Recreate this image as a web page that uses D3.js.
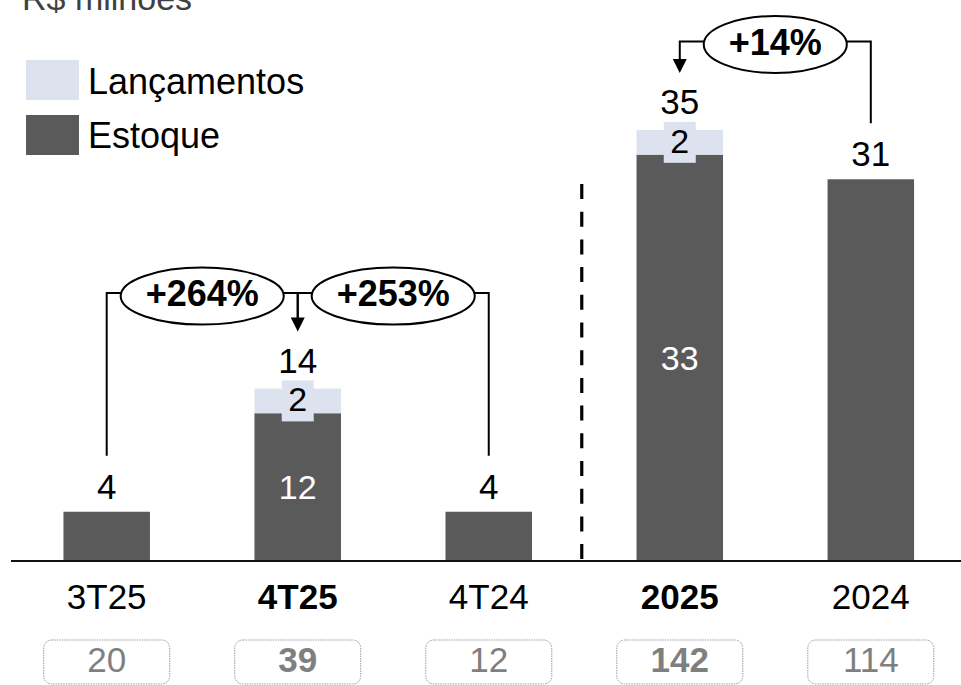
<!DOCTYPE html>
<html>
<head>
<meta charset="utf-8">
<script src="https://cdn.jsdelivr.net/npm/d3@7"></script>
<style>
  html, body { margin: 0; padding: 0; background: #fff; }
  svg { display: block; font-family: "Liberation Sans", Arial, sans-serif; }
</style>
</head>
<body>
<svg id="chart" width="961" height="685"></svg>
<script>
// ---- data ----
const categories = ["3T25", "4T25", "4T24", "2025", "2024"];
const estoque = [4, 12, 4, 33, 31];
const lancamentos = [0, 2, 0, 2, 0];
const boxValues = [20, 39, 12, 142, 114];
const boldCategories = ["4T25", "2025"];
const growthLabels = ["+264%", "+253%", "+14%"];
const growthFrom = ["3T25", "4T24", "2024"];
const growthTo = ["4T25", "4T25", "2025"];
const seriesNames = ["Lançamentos", "Estoque"];
const titleText = "R$ milhões";

// ---- setup ----
const svg = d3.select("#chart");
const W = 961, H = 685;
const C_DARK = "#5a5a5b", C_LIGHT = "#dde3ee";
const baseY = 561;

const x = d3.scalePoint().domain(categories).range([106.7, 870.8]);
const y = d3.scaleLinear().domain([0, 35]).range([baseY, 130]);
const barW = 86.5;

const rows = categories.map((c, i) => ({
  cat: c, est: estoque[i], lan: lancamentos[i], total: estoque[i] + lancamentos[i], box: boxValues[i]
}));
const isBold = c => boldCategories.includes(c);

// title (cut off at the top edge, as in the reference)
svg.append("text").attr("x", 22).attr("y", 10).attr("font-size", 34).attr("fill", "#404040").text(titleText);

// legend
const legColors = [C_LIGHT, C_DARK];
seriesNames.forEach((n, i) => {
  svg.append("rect").attr("x", 26).attr("y", 60 + i * 55).attr("width", 53).attr("height", 40).attr("fill", legColors[i]);
  svg.append("text").attr("x", 88).attr("y", 94 + i * 53.5).attr("font-size", 36).attr("fill", "#000").text(n);
});

// dashed separator
const sepX = (x("4T24") + x("2025")) / 2 - 2.5;
svg.append("line").attr("x1", sepX).attr("x2", sepX).attr("y1", 184).attr("y2", baseY)
  .attr("stroke", "#000").attr("stroke-width", 3.2).attr("stroke-dasharray", "15,12.7");

// bars
const g = svg.append("g");
g.selectAll("rect.est").data(rows).join("rect").attr("class", "est")
  .attr("x", d => x(d.cat) - barW / 2).attr("width", barW)
  .attr("y", d => y(d.est)).attr("height", d => y(0) - y(d.est))
  .attr("fill", C_DARK);
g.selectAll("rect.lan").data(rows.filter(d => d.lan > 0)).join("rect").attr("class", "lan")
  .attr("x", d => x(d.cat) - barW / 2).attr("width", barW)
  .attr("y", d => y(d.total)).attr("height", d => y(d.est) - y(d.total))
  .attr("fill", C_LIGHT);

// inner lancamentos labels with background
const lanRows = rows.filter(d => d.lan > 0);
g.selectAll("rect.lanbg").data(lanRows).join("rect")
  .attr("x", d => x(d.cat) - 16).attr("width", 32)
  .attr("y", d => (y(d.total) + y(d.est)) / 2 - 20.5).attr("height", 41)
  .attr("fill", C_LIGHT);
g.selectAll("text.lan").data(lanRows).join("text")
  .attr("x", d => x(d.cat)).attr("y", d => (y(d.total) + y(d.est)) / 2 + 10.5)
  .attr("text-anchor", "middle").attr("font-size", 34).attr("fill", "#000").text(d => d.lan);

// inner estoque labels (white) for stacked bars
g.selectAll("text.est").data(lanRows).join("text")
  .attr("x", d => x(d.cat)).attr("y", d => (y(d.est) + y(0)) / 2 + 12)
  .attr("text-anchor", "middle").attr("font-size", 34).attr("fill", "#fff").text(d => d.est);

// total labels
const labelBase = d => d.lan > 0 ? y(d.total) - 16 : y(d.total) - 13;
g.selectAll("text.tot").data(rows).join("text")
  .attr("x", d => x(d.cat)).attr("y", labelBase)
  .attr("text-anchor", "middle").attr("font-size", 35).attr("fill", "#000").text(d => d.total);

// axis line
svg.append("line").attr("x1", 11).attr("x2", W).attr("y1", baseY).attr("y2", baseY)
  .attr("stroke", "#111").attr("stroke-width", 2);

// category labels
svg.selectAll("text.cat").data(rows).join("text")
  .attr("x", d => x(d.cat)).attr("y", 609)
  .attr("text-anchor", "middle").attr("font-size", 35)
  .attr("font-weight", d => isBold(d.cat) ? "bold" : "normal")
  .attr("fill", "#000").text(d => d.cat);

// bottom boxes
svg.selectAll("rect.box").data(rows).join("rect")
  .attr("x", d => x(d.cat) - 63).attr("y", 640).attr("width", 126).attr("height", 44)
  .attr("rx", 8).attr("fill", "#fff").attr("stroke", "#9a9a9a").attr("stroke-width", 1)
  .attr("stroke-dasharray", "1.5,1");
svg.selectAll("text.box").data(rows).join("text")
  .attr("x", d => x(d.cat)).attr("y", 672)
  .attr("text-anchor", "middle").attr("font-size", 35)
  .attr("font-weight", d => isBold(d.cat) ? "bold" : "normal")
  .attr("fill", "#7f7f7f").text(d => d.box);

// growth annotations
const rowOf = c => rows.find(r => r.cat === c);
const connOffset = [95.5, 95.5, 88.5];
const ann = svg.append("g");
const arrowDrawn = {};
growthLabels.forEach((lab, i) => {
  const fr = rowOf(growthFrom[i]), to = rowOf(growthTo[i]);
  const cy = y(to.total) - connOffset[i];
  const xf = x(fr.cat), xt = x(to.cat);
  const xm = (xf + xt) / 2;
  const t = ann.append("text").attr("font-size", 36).attr("font-weight", "bold").text(lab);
  const tw = t.node().getComputedTextLength();
  t.remove();
  const rx = tw / 2 + 25, ry = 28.5;
  const fromTop = labelBase(fr) - 25 - 18;
  const toTop = labelBase(to) - 26 - 15;
  ann.append("path")
    .attr("d", `M${xf},${fromTop} V${cy} H${xm}`)
    .attr("fill", "none").attr("stroke", "#000").attr("stroke-width", 2);
  ann.append("path")
    .attr("d", `M${xm},${cy} H${xt} V${toTop - 13}`)
    .attr("fill", "none").attr("stroke", "#000").attr("stroke-width", 2);
  if (!arrowDrawn[to.cat]) {
    arrowDrawn[to.cat] = true;
    ann.append("path")
      .attr("d", `M${xt - 7},${toTop - 14} L${xt + 7},${toTop - 14} L${xt},${toTop} Z`)
      .attr("fill", "#000");
  }
  ann.append("ellipse").attr("cx", xm).attr("cy", cy + 3).attr("rx", rx).attr("ry", ry)
    .attr("fill", "#fff").attr("stroke", "#000").attr("stroke-width", 2);
  ann.append("text").attr("x", xm).attr("y", cy + 13).attr("text-anchor", "middle")
    .attr("font-size", 36).attr("font-weight", "bold").attr("fill", "#000").text(lab);
});
</script>
</body>
</html>
